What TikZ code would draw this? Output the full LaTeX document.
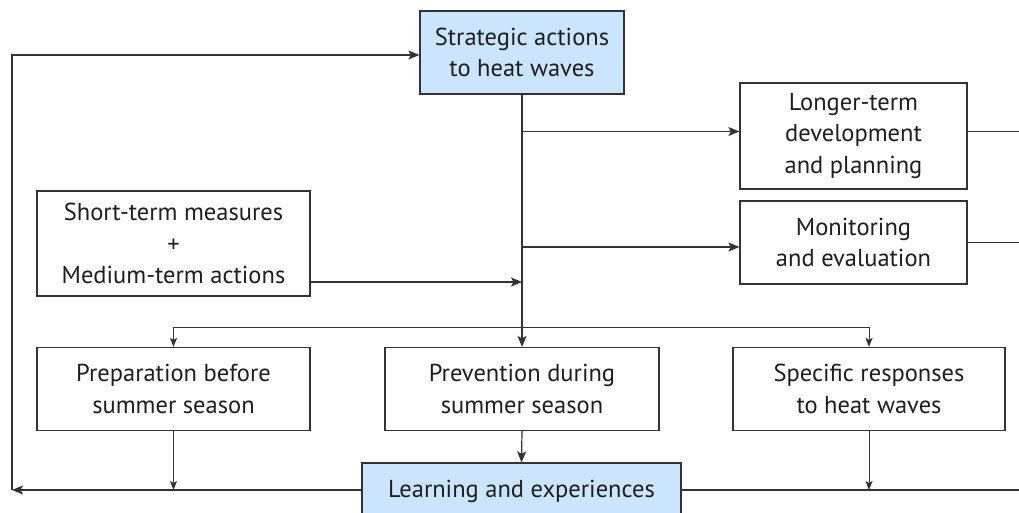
\documentclass[tikz,border=0pt]{standalone}
\usepackage{fontspec}
\setmainfont{PT Sans}
\usetikzlibrary{arrows.meta}
\definecolor{lineg}{HTML}{333333}
\definecolor{txt}{HTML}{1E1E1E}
\definecolor{blueF}{HTML}{CCE5FF}
\tikzset{
  box/.style={draw=lineg, line width=1.2pt, fill=white, text=txt, align=center,
    font=\fontsize{24.5}{31.5}\selectfont, inner sep=0pt},
  bluebox/.style={box, fill=blueF},
  conn/.style={draw=lineg, line width=1.2pt},
  arr/.style={conn, -{Stealth[length=11pt,width=9pt,inset=2.5pt]}},
  sarr/.style={draw=lineg, line width=1pt, -{Stealth[length=9pt,width=7pt,inset=2pt]}},
}
\begin{document}
\begin{tikzpicture}[x=1pt,y=-1pt]
\useasboundingbox (0,0) rectangle (1019,513);
\clip (0,0) rectangle (1019,513);
\node[bluebox, minimum width=204pt, minimum height=83pt] (strat) at (522,52.5) {Strategic actions\\to heat waves};
\node[box, minimum width=227pt, minimum height=106pt] (longer) at (853.5,136) {Longer-term\\development\\and planning};
\node[box, minimum width=227pt, minimum height=83pt] (monit) at (853.5,242.5) {Monitoring\\and evaluation};
\node[box, minimum width=273pt, minimum height=105pt] (short) at (173.5,243.5) {Short-term measures\\+\\Medium-term actions};
\node[box, minimum width=273pt, minimum height=83pt] (prep) at (173.5,389) {Preparation before\\summer season};
\node[box, minimum width=274pt, minimum height=83pt] (prev) at (522,389) {Prevention during\\summer season};
\node[box, minimum width=272pt, minimum height=83pt] (spec) at (869,389) {Specific responses\\to heat waves};
\node[bluebox, minimum width=319pt, minimum height=56pt] (learn) at (521.5,491) {Learning and experiences};

\coordinate (jL) at (522,131.5);
\coordinate (jM) at (522,247);
\coordinate (jS) at (522,282);
\coordinate (jD) at (522,327);
\coordinate (lb) at (12,490);
\coordinate (lt) at (12,55);
\coordinate (rL) at (1025,131.5);
\coordinate (rM) at (1025,242.5);
\coordinate (rB) at (1025,490);

% trunk
\draw[arr] (strat.south) -- (prev.north);
\draw[arr] (jL) -- (longer.west |- jL);
\draw[arr] (jM) -- (monit.west |- jM);
\draw[arr] (short.east |- jS) -- (jS);
% distribution
\draw[sarr] (prep.north |- jD) -- (prep.north);
\draw[conn, line width=1pt] (prep.north |- jD) -- (spec.north |- jD);
\draw[sarr] (spec.north |- jD) -- (spec.north);
% down to learning line
\draw[sarr] (prep.south) -- (prep.south |- lb);
\draw[arr] (prev.south) -- (learn.north);
\draw[sarr] (spec.south) -- (spec.south |- lb);
% bottom line and feedback
\draw[arr] (learn.west |- lb) -- (lb);
\draw[arr] (lb) -- (lt) -- (strat.west |- lt);
\draw[conn] (learn.east |- lb) -- (rB);
\draw[conn] (longer.east |- rL) -- (rL);
\draw[conn] (monit.east) -- (rM);
\end{tikzpicture}
\end{document}
